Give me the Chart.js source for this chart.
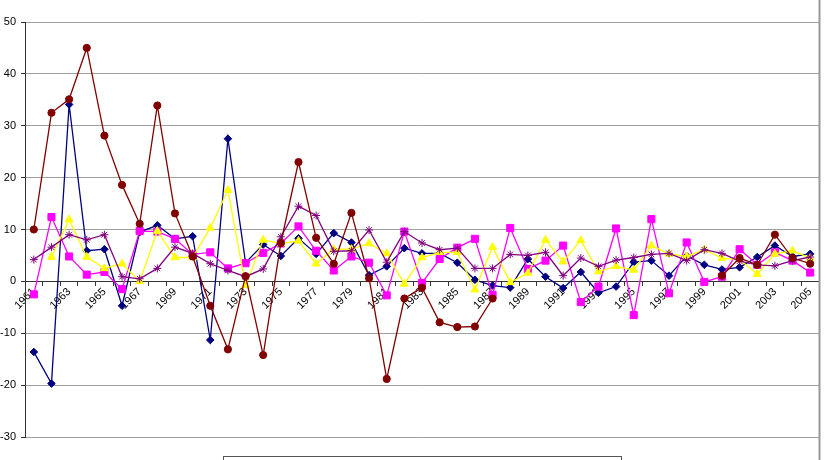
<!DOCTYPE html>
<html>
<head>
<meta charset="utf-8">
<script src="https://cdn.jsdelivr.net/npm/chart.js@4/dist/chart.umd.min.js"></script>
<style>
  html, body { margin: 0; padding: 0; background: #fff; }
  #wrap { position: relative; width: 826px; height: 460px; overflow: hidden; }
  #legendBox { position: absolute; left: 223px; top: 456px; width: 397px; height: 20px; border: 1px solid #555; }
</style>
</head>
<body>
<div id="wrap">
  <canvas id="chart" width="826" height="460"></canvas>
  <div id="legendBox"></div>
</div>
<script>
// categories
const years = ["1961", "1962", "1963", "1964", "1965", "1966", "1967", "1968", "1969", "1970",
  "1971", "1972", "1973", "1974", "1975", "1976", "1977", "1978", "1979", "1980",
  "1981", "1982", "1983", "1984", "1985", "1986", "1987", "1988", "1989", "1990",
  "1991", "1992", "1993", "1994", "1995", "1996", "1997", "1998", "1999", "2000",
  "2001", "2002", "2003", "2004", "2005"];

// series values
const navySeries = [-13.6, -19.7, 34.1, 5.9, 6.2, -4.7, 9.5, 10.8, 8.2, 8.7,
  -11.3, 27.5, 3.6, 7.1, 4.9, 8.3, 5.3, 9.3, 7.5, 1.2,
  2.9, 6.4, 5.4, 5.4, 3.6, 0.3, -0.8, -1.2, 4.3, 0.9,
  -1.3, 1.8, -2.2, -1.0, 3.7, 4.0, 1.1, 4.9, 3.2, 2.3,
  2.7, 4.7, 6.9, 4.8, 5.3];

const magentaSeries = [-2.5, 12.4, 4.8, 1.3, 1.8, -1.5, 9.7, 9.6, 8.2, 5.2,
  5.6, 2.5, 3.5, 5.5, 7.3, 10.6, 5.9, 2.1, 4.8, 3.6,
  -2.7, 9.6, -0.3, 4.3, 6.5, 8.2, -2.6, 10.3, 2.4, 4.0,
  6.9, -4.0, -1.0, 10.2, -6.5, 12.0, -2.3, 7.5, -0.1, 0.9,
  6.2, 3.2, 5.6, 4.0, 1.7];

const yellowSeries = [null, 4.7, 11.9, 4.7, 2.5, 3.4, 0.0, 9.7, 4.6, 4.6,
  10.3, 17.6, -0.8, 8.0, 7.3, 7.8, 3.4, 6.2, 6.2, 7.3,
  5.4, -0.5, 4.6, 5.6, 5.6, -1.6, 6.6, -0.2, 1.6, 8.0,
  3.8, 7.9, 1.9, 2.9, 2.2, 6.9, 5.3, 4.8, 6.1, 4.5,
  4.2, 1.4, 5.3, 5.9, 4.5];

const purpleSeries = [4.2, 6.6, 9.0, 8.0, 9.0, 0.9, 0.5, 2.5, 6.6, 5.4,
  3.4, 2.1, 0.9, 2.4, 8.6, 14.5, 12.7, 5.8, 5.9, 9.9,
  3.7, 9.6, 7.4, 6.1, 6.4, 2.5, 2.5, 5.2, 5.0, 5.6,
  1.1, 4.5, 2.9, 4.1, 4.6, 5.2, 5.4, 4.0, 6.1, 5.4,
  3.9, 3.2, 3.0, 4.0, 4.7];

const darkRedSeries = [10.0, 32.5, 35.1, 45.0, 28.1, 18.6, 11.1, 33.9, 13.1, 4.8,
  -4.7, -13.1, 1.0, -14.2, 7.4, 23.0, 8.4, 3.4, 13.2, 0.6,
  -18.8, -3.3, -1.2, -7.9, -8.8, -8.7, -3.3, null, null, null,
  null, null, null, null, null, null, null, null, null, 1.1,
  4.5, 3.2, 9.0, 4.5, 3.4];

// y axis range
const yMin = -30;
const yMax = 50;
const yStep = 10;

function series(data, color, style, radius, order) {
  return {
    data: data,
    borderColor: color,
    backgroundColor: color,
    pointBackgroundColor: color,
    pointBorderColor: color,
    pointStyle: style,
    pointRadius: radius,
    pointBorderWidth: 1,
    borderWidth: 1.3,
    tension: 0,
    spanGaps: false,
    order: order
  };
}

// grey edge on the right, like the frame of the original
const frameLine = {
  id: "frameLine",
  afterDraw(chart) {
    const ctx = chart.ctx;
    const x = chart.chartArea.right + 0.5;
    ctx.save();
    ctx.strokeStyle = "#999999";
    ctx.lineWidth = 2;
    ctx.beginPath();
    ctx.moveTo(x, 0);
    ctx.lineTo(x, chart.height);
    ctx.stroke();
    ctx.restore();
  }
};

new Chart(document.getElementById("chart"), {
  type: "line",
  data: {
    labels: years,
    datasets: [
      series(navySeries, "#000080", "rectRot", 3.8, 4),
      series(magentaSeries, "#ff00ff", "rect", 5, 3),
      series(yellowSeries, "#ffff00", "triangle", 4.5, 2),
      series(purpleSeries, "#800080", "star", 4, 1),
      series(darkRedSeries, "#800000", "circle", 3.6, 0)
    ]
  },
  options: {
    responsive: false,
    animation: false,
    layout: { padding: { left: 0, top: 22, right: 7, bottom: 23 } },
    plugins: {
      legend: { display: false },
      tooltip: { enabled: false }
    },
    scales: {
      x: {
        type: "category",
        position: { y: 0 },
        offset: true,
        afterFit(scale) { scale.height = 0; },
        grid: {
          display: true,
          offset: true,
          drawOnChartArea: false,
          tickLength: 4,
          tickColor: "#333"
        },
        border: { display: true, color: "#333", width: 1 },
        ticks: {
          autoSkip: false,
          maxRotation: 45,
          minRotation: 45,
          padding: 0,
          color: "#000",
          font: { family: "Liberation Sans", size: 11 },
          callback(val, idx) { return idx % 2 === 0 ? this.getLabelForValue(val) : ""; }
        }
      },
      y: {
        min: yMin,
        max: yMax,
        afterFit(scale) { scale.width = 25; },
        grid: {
          color: "#a0a0a0",
          lineWidth: 1,
          tickLength: 4,
          tickColor: "#333"
        },
        border: { display: true, color: "#333", width: 1 },
        ticks: {
          stepSize: yStep,
          padding: 5,
          color: "#000",
          font: { family: "Liberation Sans", size: 11 }
        }
      }
    }
  },
  plugins: [frameLine]
});
</script>
</body>
</html>
